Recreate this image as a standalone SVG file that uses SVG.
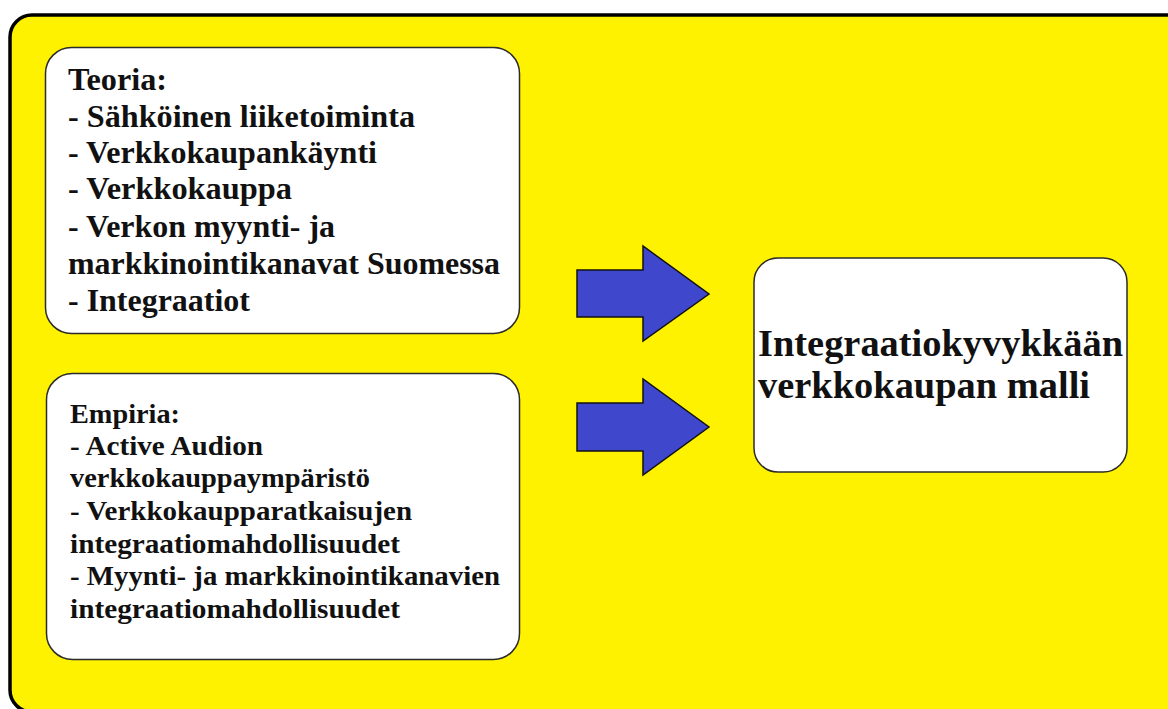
<svg xmlns="http://www.w3.org/2000/svg" width="1168" height="709" viewBox="0 0 1168 709">
  <style>
    .box { fill: #ffffff; stroke: #2b2b2b; stroke-width: 1.5; }
    .arrow { fill: #3f48cc; stroke: #111111; stroke-width: 1.5; stroke-linejoin: miter; }
    .txt { font-family: "Liberation Serif", "Times New Roman", serif; font-weight: bold; fill: #111111; }
    .t1 { font-size: 32px; }
    .t2 { font-size: 28px; }
    .t3 { font-size: 37px; }
  </style>
  <rect width="1168" height="709" fill="#ffffff"/>
  <!-- yellow frame, running off the right and bottom edges -->
  <rect x="10" y="15" width="1185" height="697" rx="22" ry="22" fill="#fff200" stroke="#000000" stroke-width="3.5"/>

  <g id="teoria">
    <rect class="box" x="45.5" y="47.5" width="474" height="286" rx="26" ry="26"/>
    <text class="txt t1" x="68" y="90" textLength="99" lengthAdjust="spacingAndGlyphs">Teoria:</text>
    <text class="txt t1" x="68" y="127" textLength="347" lengthAdjust="spacingAndGlyphs">- Sähköinen liiketoiminta</text>
    <text class="txt t1" x="68" y="163" textLength="309" lengthAdjust="spacingAndGlyphs">- Verkkokaupankäynti</text>
    <text class="txt t1" x="68" y="199" textLength="224" lengthAdjust="spacingAndGlyphs">- Verkkokauppa</text>
    <text class="txt t1" x="68" y="237" textLength="267" lengthAdjust="spacingAndGlyphs">- Verkon myynti- ja</text>
    <text class="txt t1" x="68" y="274" textLength="432" lengthAdjust="spacingAndGlyphs">markkinointikanavat Suomessa</text>
    <text class="txt t1" x="68" y="311" textLength="182" lengthAdjust="spacingAndGlyphs">- Integraatiot</text>
  </g>

  <g id="empiria">
    <rect class="box" x="46.5" y="373.5" width="473" height="286" rx="26" ry="26"/>
    <text class="txt t2" x="70" y="423" textLength="110" lengthAdjust="spacingAndGlyphs">Empiria:</text>
    <text class="txt t2" x="70" y="455" textLength="193" lengthAdjust="spacingAndGlyphs">- Active Audion</text>
    <text class="txt t2" x="70" y="487" textLength="300" lengthAdjust="spacingAndGlyphs">verkkokauppaympäristö</text>
    <text class="txt t2" x="70" y="520" textLength="342" lengthAdjust="spacingAndGlyphs">- Verkkokaupparatkaisujen</text>
    <text class="txt t2" x="70" y="553" textLength="330" lengthAdjust="spacingAndGlyphs">integraatiomahdollisuudet</text>
    <text class="txt t2" x="70" y="585" textLength="430" lengthAdjust="spacingAndGlyphs">- Myynti- ja markkinointikanavien</text>
    <text class="txt t2" x="70" y="618" textLength="330" lengthAdjust="spacingAndGlyphs">integraatiomahdollisuudet</text>
  </g>

  <g id="malli">
    <rect class="box" x="754" y="258" width="373" height="214" rx="24" ry="24"/>
    <text class="txt t3" x="758" y="356" textLength="365" lengthAdjust="spacingAndGlyphs">Integraatiokyvykkään</text>
    <text class="txt t3" x="758" y="398" textLength="332" lengthAdjust="spacingAndGlyphs">verkkokaupan malli</text>
  </g>

  <g id="connectors">
    <polygon class="arrow" points="577,270 643,270 643,246 709,294 643,341 643,317 577,317"/>
    <polygon class="arrow" points="577,403 643,403 643,379 709,427 643,475 643,451 577,451"/>
  </g>
</svg>
